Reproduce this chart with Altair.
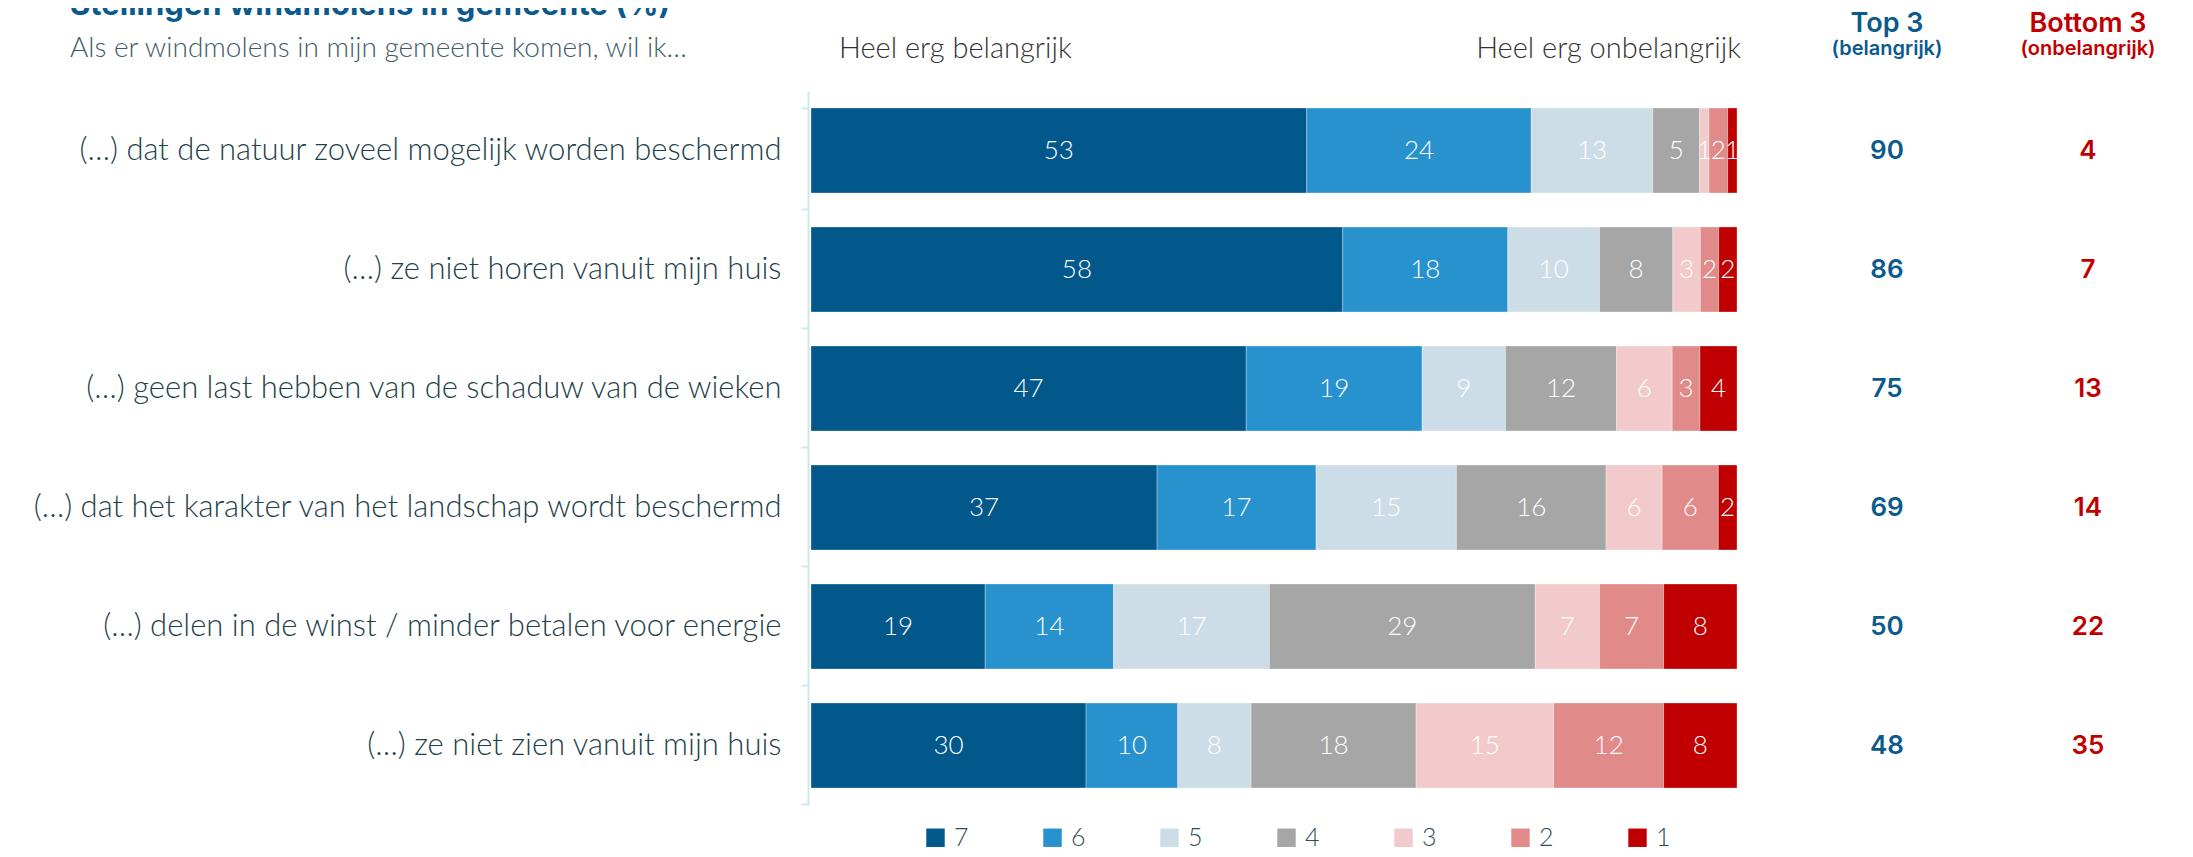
import altair as alt
import pandas as pd

titel = "Stellingen windmolens in gemeente (%)"
ondertitel = "Als er windmolens in mijn gemeente komen, wil ik…"
links_label = "Heel erg belangrijk"
rechts_label = "Heel erg onbelangrijk"

stellingen = [
    "(…) dat de natuur zoveel mogelijk worden beschermd",
    "(…) ze niet horen vanuit mijn huis",
    "(…) geen last hebben van de schaduw van de wieken",
    "(…) dat het karakter van het landschap wordt beschermd",
    "(…) delen in de winst / minder betalen voor energie",
    "(…) ze niet zien vanuit mijn huis",
]

categorieen = ["7", "6", "5", "4", "3", "2", "1"]
score_7 = [53, 58, 47, 37, 19, 30]
score_6 = [24, 18, 19, 17, 14, 10]
score_5 = [13, 10, 9, 15, 17, 8]
score_4 = [5, 8, 12, 16, 29, 18]
score_3 = [1, 3, 6, 6, 7, 15]
score_2 = [2, 2, 3, 6, 7, 12]
score_1 = [1, 2, 4, 2, 8, 8]

top3 = [90, 86, 75, 69, 50, 48]
bottom3 = [4, 7, 13, 14, 22, 35]

kleuren = ["#02578b", "#2892cf", "#cddde7", "#a6a6a6", "#f2cacb", "#e08a8a", "#c00000"]

scores = [score_7, score_6, score_5, score_4, score_3, score_2, score_1]
rows = []
for ci, (cat, vals) in enumerate(zip(categorieen, scores)):
    for s, v in zip(stellingen, vals):
        rows.append({"stelling": s, "cat": cat, "waarde": v, "volgorde": ci})
df = pd.DataFrame(rows)
df_kol = pd.DataFrame({"stelling": stellingen, "top3": top3, "bottom3": bottom3})

LIGHT = "Lato"
BOLD = "Inter"
NUM = "Lato"

y_enc = alt.Y(
    "stelling:N",
    sort=stellingen,
    title=None,
    scale=alt.Scale(paddingInner=0.286, paddingOuter=0.143),
    axis=alt.Axis(
        labelFont=LIGHT,
        labelFontWeight=300,
        labelFontSize=31,
        labelColor="#1f3f4a",
        labelLimit=1200,
        labelPadding=20,
        domainColor="#cfe8ee",
        domainWidth=2,
        tickColor="#cfe8ee",
        tickWidth=2,
        tickSize=7,
        bandPosition=1.2,
        tickExtra=True,
        offset=3,
    ),
)

base = (
    alt.Chart(df)
    .transform_joinaggregate(totaal="sum(waarde)", groupby=["stelling"])
    .transform_window(
        cum="sum(waarde)",
        sort=[alt.SortField("volgorde")],
        groupby=["stelling"],
        frame=[None, 0],
    )
    .transform_calculate(
        x0="(datum.cum - datum.waarde) / datum.totaal",
        x1="datum.cum / datum.totaal",
        xm="(datum.cum - datum.waarde / 2) / datum.totaal",
    )
)

x_scale = alt.Scale(domain=[0, 1], nice=False, zero=True)

bars = base.mark_bar(stroke="white", strokeWidth=0.6, strokeOpacity=0.5).encode(
    y=y_enc,
    x=alt.X("x0:Q", scale=x_scale, axis=None),
    x2="x1:Q",
    color=alt.Color(
        "cat:N",
        scale=alt.Scale(domain=categorieen, range=kleuren),
        legend=alt.Legend(
            title=None,
            orient="none",
            legendX=112,
            legendY=734,
            direction="horizontal",
            columns=7,
            gridAlign="all",
            columnPadding=71,
            symbolType="square",
            symbolSize=340,
            symbolStrokeWidth=0,
            labelFont=NUM,
            labelFontWeight=300,
            labelFontSize=25,
            labelColor="#2f4d57",
            labelOffset=6,
        ),
    ),
    order=alt.Order("volgorde:Q"),
)

seg_text = base.mark_text(
    color="white", font=NUM, fontWeight=300, fontSize=26, baseline="middle"
).encode(
    y=alt.Y("stelling:N", sort=stellingen),
    x=alt.X("xm:Q", scale=x_scale),
    text="waarde:Q",
)

top_txt = alt.Chart(df_kol).mark_text(
    font=BOLD, fontWeight=600, fontSize=26, color="#0b5a8d", baseline="middle"
).encode(
    y=alt.Y("stelling:N", sort=stellingen),
    x=alt.value(1076),
    text="top3:Q",
)

bot_txt = alt.Chart(df_kol).mark_text(
    font=BOLD, fontWeight=600, fontSize=26, color="#c00000", baseline="middle"
).encode(
    y=alt.Y("stelling:N", sort=stellingen),
    x=alt.value(1277),
    text="bottom3:Q",
)


def losse_tekst(tekst, x, y, size, color, weight=300, align="center", baseline="middle", font=None):
    return alt.Chart(pd.DataFrame({"t": [tekst]})).mark_text(
        font=font or LIGHT,
        fontSize=size,
        fontWeight=weight,
        color=color,
        align=align,
        baseline=baseline,
    ).encode(text="t:N", x=alt.value(x), y=alt.value(y))


headers = [
    losse_tekst("Top 3", 1076, -67, 27, "#0b5a8d", 600, font=BOLD),
    losse_tekst("(belangrijk)", 1076, -42, 20, "#0b5a8d", 600, font=BOLD),
    losse_tekst("Bottom 3", 1277, -67, 27, "#c00000", 600, font=BOLD),
    losse_tekst("(onbelangrijk)", 1277, -42, 20, "#c00000", 600, font=BOLD),
    losse_tekst(links_label, 28, -42, 29, "#333333", 300, "left"),
    losse_tekst(rechts_label, 930, -42, 29, "#333333", 300, "right"),
    losse_tekst(ondertitel, -741, -42, 28, "#3f5d67", 300, "left"),
    losse_tekst(titel, -741, -76, 31, "#0b5a8d", 700, "left", "alphabetic", font=BOLD),
]

chart = (
    alt.layer(bars, seg_text, top_txt, bot_txt, *headers)
    .properties(
        width=926,
        height=714,
        padding={"left": 803, "top": 83, "right": 440, "bottom": 42},
        autosize=alt.AutoSizeParams(type="none"),
    )
    .configure_view(stroke=None)
)

chart.save("out.html", embed_options={"renderer": "svg", "actions": False})
